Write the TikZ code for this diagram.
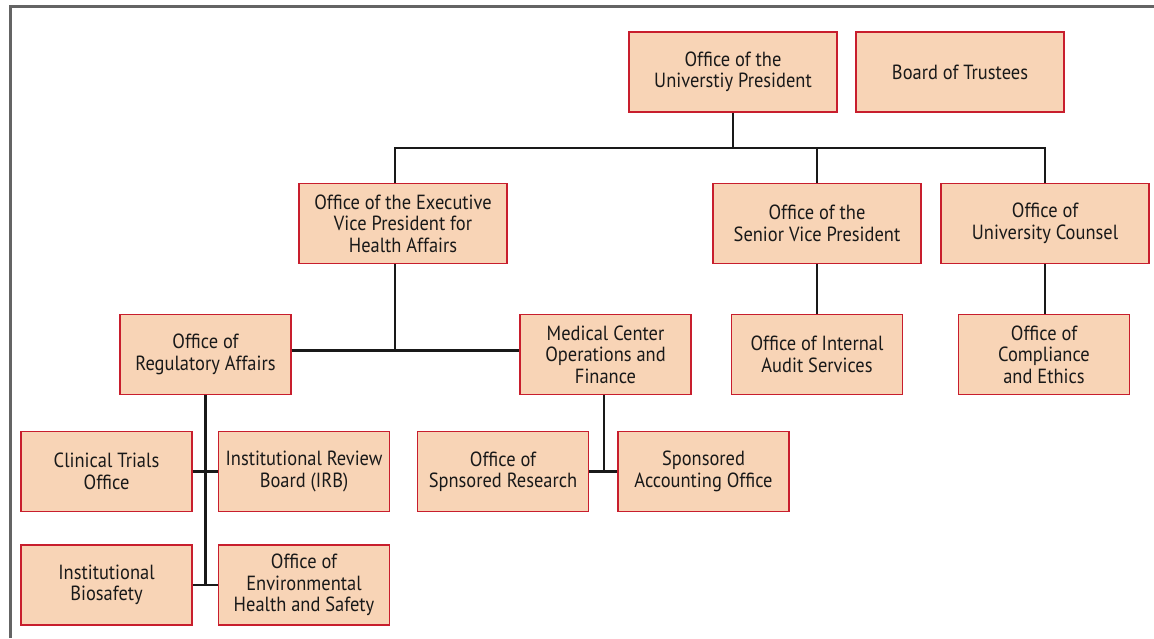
\documentclass[tikz,border=0pt]{standalone}
\usepackage{fontspec}
\setmainfont{PT Sans}[FakeStretch=0.9]
\usetikzlibrary{positioning}
\definecolor{boxfill}{RGB}{248,212,182}
\definecolor{boxline}{RGB}{200,30,45}
\definecolor{framegray}{RGB}{100,100,100}
\begin{document}
\begin{tikzpicture}[x=1pt,y=-1pt,
        office/.style={draw=boxline,fill=boxfill,line width=1.2pt,
            minimum width=208pt,minimum height=80pt,align=center,
            font=\fontsize{20.5}{21.5}\selectfont,inner sep=2pt,
            text=black!90},
        small/.style={office,minimum width=171pt},
        link/.style={draw=black!90,line width=2.8pt}
        ]
    \useasboundingbox (0,0) rectangle (1154,638);
    \draw[framegray,line width=3pt] (10,638) -- (10,6) -- (1154,6);

    % Spitze
    \node[office] (pres)  at (733,72)    {Office of the\\Universtiy President};
    \node[office] (board) at (960,72)    {Board of Trustees};

    % zweite Ebene
    \node[office] (evp)   at (403,223.5) {Office of the Executive\\Vice President for\\Health Affairs};
    \node[office] (svp)   at (817,223.5) {Office of the\\Senior Vice President};
    \node[office] (couns) at (1045,223.5){Office of\\University Counsel};

    % dritte Ebene
    \node[small]  (reg)   at (205.5,354.5) {Office of\\Regulatory Affairs};
    \node[small]  (med)   at (605.5,354.5) {Medical Center\\Operations and\\Finance};
    \node[small]  (audit) at (817,354.5)   {Office of Internal\\Audit Services};
    \node[small]  (comp)  at (1044,354.5)  {Office of\\Compliance\\and Ethics};

    % unterste Ebene
    \node[small]  (clin)  at (106.5,471.5) {Clinical Trials\\Office};
    \node[small]  (irb)   at (304,471.5)   {Institutional Review\\Board (IRB)};
    \node[small]  (bio)   at (106.5,585)   {Institutional\\Biosafety};
    \node[small]  (env)   at (304,585)     {Office of\\Environmental\\Health and Safety};
    \node[small]  (osr)   at (503,471.5)   {Office of\\Spnsored Research};
    \node[small]  (sao)   at (703.5,471.5) {Sponsored\\Accounting Office};

    % Verbindungen
    \coordinate (bus) at (733,148);
    \draw[link] (pres.south) -- (bus);
    \draw[link] ([xshift=-8pt]evp.north) |- (couns.north |- bus) -- (couns.north);
    \draw[link] (svp.north) -- (svp.north |- bus);
    \draw[link] (svp.south) -- (audit.north);
    \draw[link] (couns.south) -- (couns.south |- comp.north);
    \draw[link] ([yshift=4pt]reg.east) -- ([yshift=4pt]med.west);
    \draw[link] ([xshift=-8pt]evp.south) -- ([xshift=-8pt,yshift=4pt]evp.south |- reg.east);
    \draw[link] (reg.south) -- (reg.south |- bio.east);
    \draw[link] (clin.east) -- (irb.west);
    \draw[link] (bio.east) -- (env.west);
    \draw[link] ([xshift=-1.5pt]med.south) -- ([xshift=-1.5pt]med.south |- osr.east);
    \draw[link] (osr.east) -- (sao.west);
\end{tikzpicture}
\end{document}
